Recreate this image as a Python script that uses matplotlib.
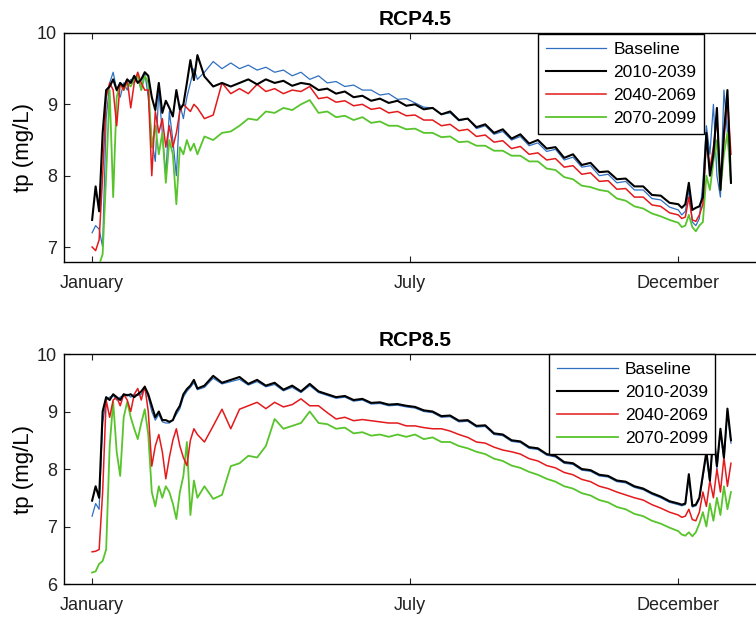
import matplotlib.pyplot as plt

plt.rcParams['font.family'] = ['Liberation Sans', 'DejaVu Sans']

# day of year; denser sampling in the noisy winter parts
days = list(range(1, 62, 2)) + list(range(65, 336, 5)) + list(range(337, 366, 2))

month_ticks = [1, 182, 335]
month_labels = ["January", "July", "December"]
labels = ["Baseline", "2010-2039", "2040-2069", "2070-2099"]

# ---- RCP4.5 ----
base_45 = [7.2, 7.3, 7.25, 7.0, 8.8, 9.3, 9.45, 9.2, 9.1, 9.3, 9.2, 9.35, 9.3, 9.4, 9.2, 9.45,
           9.1, 8.5, 8.2, 9.2, 8.6, 8.0, 8.9, 8.5, 8.0, 9.0, 8.8, 9.1, 9.3, 9.5, 9.35,
           9.45, 9.6, 9.5, 9.58, 9.5, 9.55, 9.48, 9.52, 9.45, 9.48,
           9.4, 9.45, 9.35, 9.4, 9.3, 9.32, 9.25, 9.27, 9.2, 9.2,
           9.13, 9.15, 9.07, 9.08, 9.02, 8.96, 8.95, 8.86, 8.88, 8.77,
           8.8, 8.66, 8.7, 8.58, 8.62, 8.5, 8.55, 8.42, 8.46, 8.34,
           8.37, 8.22, 8.26, 8.12, 8.14, 8.0, 8.02, 7.9, 7.92, 7.8,
           7.8, 7.68, 7.66, 7.56, 7.52,
           7.45, 7.5, 7.8, 7.35, 7.3, 7.4, 7.9, 8.7, 8.3, 9.0, 8.0, 7.7, 9.2, 8.6, 7.9]
p1_45 = [7.38, 7.85, 7.5, 8.6, 9.2, 9.25, 9.35, 9.2, 9.3, 9.25, 9.35, 9.3, 9.4, 9.3, 9.35, 9.45,
         9.4, 9.1, 8.92, 9.3, 8.88, 9.05, 8.95, 8.83, 9.2, 8.93, 9.0, 9.3, 9.62, 9.34, 9.69,
         9.39, 9.25, 9.3, 9.25, 9.3, 9.35, 9.28, 9.35, 9.3, 9.33,
         9.26, 9.3, 9.28, 9.2, 9.22, 9.15, 9.18, 9.1, 9.12, 9.05,
         9.08, 9.02, 9.05, 8.98, 9.0, 8.93, 8.95, 8.86, 8.9, 8.78,
         8.8, 8.68, 8.72, 8.6, 8.65, 8.52, 8.58, 8.45, 8.5, 8.38,
         8.4, 8.25, 8.3, 8.15, 8.18, 8.05, 8.06, 7.95, 7.96, 7.85,
         7.85, 7.73, 7.72, 7.62, 7.6,
         7.55, 7.6, 7.9, 7.52, 7.55, 7.57, 7.7, 8.6, 8.0, 8.3, 8.95, 7.8, 8.6, 9.2, 7.9]
p2_45 = [7.0, 6.95, 7.1, 8.0, 9.1, 9.3, 9.2, 8.7, 9.3, 9.2, 9.35, 8.95, 9.3, 9.45, 9.3, 9.2,
         9.2, 8.0, 8.9, 8.6, 8.8, 8.4, 8.7, 8.4, 8.6, 8.9, 9.0, 8.95, 8.9, 9.0, 8.95,
         8.8, 8.85, 9.3, 9.15, 9.22, 9.15, 9.28, 9.18, 9.22, 9.15,
         9.2, 9.18, 9.25, 9.08, 9.1, 9.03, 9.05, 8.98, 9.0, 8.93,
         8.95, 8.88, 8.9, 8.84, 8.85, 8.78, 8.78, 8.7, 8.72, 8.63,
         8.65, 8.55, 8.57, 8.47, 8.49, 8.38, 8.41, 8.3, 8.32, 8.22,
         8.24, 8.12, 8.14, 8.02, 8.04, 7.92, 7.93, 7.81, 7.82, 7.7,
         7.7, 7.59, 7.57, 7.48, 7.45,
         7.4, 7.42, 7.7, 7.38, 7.36, 7.45, 7.6, 8.5, 8.1, 8.4, 8.8, 7.9, 8.5, 9.1, 8.3]
p3_45 = [6.75, 6.72, 6.75, 6.9, 8.0, 9.2, 7.7, 9.1, 9.3, 9.2, 9.3, 9.25, 9.35, 9.4, 9.2, 9.4,
         9.3, 8.4, 8.7, 8.3, 8.6, 7.9, 8.5, 8.3, 7.6, 8.4, 8.3, 8.5, 8.35, 8.45, 8.3,
         8.55, 8.5, 8.6, 8.62, 8.7, 8.8, 8.78, 8.9, 8.88, 8.95,
         8.92, 9.0, 9.06, 8.88, 8.9, 8.82, 8.84, 8.78, 8.82, 8.74,
         8.76, 8.7, 8.7, 8.65, 8.66, 8.6, 8.6, 8.54, 8.55, 8.47,
         8.48, 8.42, 8.42, 8.35, 8.35, 8.28, 8.28, 8.2, 8.2, 8.1,
         8.08, 7.98, 7.95, 7.86, 7.84, 7.8, 7.78, 7.68, 7.65, 7.57,
         7.54, 7.47, 7.43, 7.38, 7.34,
         7.28, 7.3, 7.45, 7.28, 7.22, 7.3, 7.35, 8.0, 7.8, 8.2, 8.5, 7.8, 8.3, 8.6, 7.9]

# ---- RCP8.5 ----
base_85 = [7.18, 7.4, 7.3, 8.8, 9.2, 9.25, 9.28, 9.2, 9.25, 9.28, 9.3, 9.25, 9.3, 9.28, 9.3, 9.4,
           9.25, 9.0, 8.85, 8.95, 8.82, 8.8, 8.8, 8.85, 8.95, 9.05, 9.25, 9.35, 9.42, 9.5, 9.38,
           9.42, 9.58, 9.48, 9.52, 9.56, 9.46, 9.52, 9.43, 9.47, 9.36,
           9.42, 9.33, 9.45, 9.33, 9.28, 9.23, 9.25, 9.18, 9.2, 9.13,
           9.14, 9.1, 9.11, 9.08, 9.06, 9.0, 8.98, 8.9, 8.91, 8.82,
           8.83, 8.73, 8.74, 8.6, 8.58, 8.48, 8.46, 8.36, 8.34, 8.24,
           8.21, 8.1, 8.08, 7.98, 7.96, 7.88, 7.86, 7.78, 7.76, 7.68,
           7.64, 7.56, 7.5, 7.42, 7.38,
           7.36, 7.38, 7.85, 7.34, 7.36, 7.48, 7.85, 8.25, 7.75, 8.6, 8.0, 8.65, 8.15, 9.0, 8.45]
p1_85 = [7.45, 7.7, 7.5, 9.0, 9.25, 9.2, 9.3, 9.25, 9.2, 9.3, 9.28, 9.3, 9.25, 9.3, 9.35, 9.43,
         9.3, 9.1, 8.9, 9.0, 8.85, 8.85, 8.82, 8.85, 9.0, 9.1, 9.3, 9.39, 9.45, 9.55, 9.4,
         9.45, 9.62, 9.5, 9.55, 9.6, 9.48, 9.55, 9.45, 9.5, 9.38,
         9.45, 9.35, 9.48, 9.35, 9.3, 9.25, 9.27, 9.2, 9.22, 9.15,
         9.16, 9.12, 9.13, 9.1, 9.08, 9.02, 9.0, 8.92, 8.93, 8.84,
         8.85, 8.75, 8.76, 8.62, 8.6, 8.5, 8.48, 8.38, 8.36, 8.26,
         8.23, 8.12, 8.1, 8.0, 7.98, 7.9, 7.88, 7.8, 7.78, 7.7,
         7.66, 7.58, 7.52, 7.44, 7.4,
         7.38, 7.4, 7.91, 7.36, 7.38, 7.5, 7.9, 8.3, 7.8, 8.64, 8.05, 8.7, 8.2, 9.05, 8.5]
p2_85 = [6.56, 6.57, 6.6, 7.6, 9.2, 8.9, 9.2, 9.25, 9.1, 9.3, 9.2, 9.0, 9.3, 9.4, 9.2, 9.44,
         9.0, 8.05, 8.4, 8.6, 8.3, 7.83, 8.2, 8.5, 8.7, 8.4, 8.2, 8.06, 8.5, 8.7, 8.6,
         8.47, 8.75, 9.04, 8.7, 9.04, 9.1, 9.16, 9.05, 9.16, 9.08,
         9.12, 9.22, 9.1, 9.1, 8.98, 8.87, 8.9, 8.84, 8.86, 8.84,
         8.82, 8.8, 8.8, 8.75, 8.75, 8.72, 8.7, 8.7, 8.66, 8.6,
         8.55, 8.47, 8.45, 8.38, 8.33, 8.3, 8.26, 8.18, 8.14, 8.06,
         8.02, 7.94, 7.9, 7.82, 7.78, 7.7, 7.66, 7.6, 7.55, 7.5,
         7.46, 7.38, 7.32, 7.25, 7.2,
         7.16, 7.18, 7.3, 7.12, 7.1, 7.25, 7.6, 7.35, 7.8, 7.5, 8.0, 7.6, 8.2, 7.7, 8.1]
p3_85 = [6.2, 6.22, 6.35, 6.4, 6.6, 8.4, 9.17, 8.3, 7.88, 8.9, 9.17, 8.9, 8.7, 8.52, 8.8, 9.04,
         8.6, 7.6, 7.35, 7.7, 7.5, 7.7, 7.6, 7.4, 7.13, 7.6, 7.88, 8.47, 7.2, 7.8, 7.5,
         7.7, 7.48, 7.55, 8.05, 8.1, 8.23, 8.2, 8.4, 8.87, 8.7,
         8.75, 8.8, 9.0, 8.8, 8.78, 8.7, 8.72, 8.62, 8.64, 8.58,
         8.6, 8.56, 8.6, 8.56, 8.6, 8.52, 8.55, 8.47, 8.47, 8.4,
         8.36, 8.3, 8.26, 8.18, 8.14, 8.06, 8.02, 7.95, 7.9, 7.83,
         7.78, 7.7, 7.66, 7.58, 7.54, 7.46, 7.42, 7.34, 7.3, 7.22,
         7.18, 7.1, 7.05, 6.98, 6.92,
         6.86, 6.84, 6.9, 6.83, 6.9, 7.05, 7.25, 7.0, 7.4, 7.1, 7.5, 7.2, 7.7, 7.3, 7.6]

colors = ["#2f6fc0", "black", "#e3191c", "#58c42c"]
widths = [0.9, 1.5, 1.1, 1.3]
zorders = [2, 5, 4, 3]

fig = plt.figure(figsize=(7.56, 6.19), dpi=100)
ax1 = fig.add_axes([0.0847, 0.5767, 0.9286, 0.370])
ax2 = fig.add_axes([0.0847, 0.0565, 0.9286, 0.3716])

panels = [
    (ax1, [base_45, p1_45, p2_45, p3_45], "RCP4.5", (6.79, 10), [7, 8, 9, 10], (0.675, 0.996)),
    (ax2, [base_85, p1_85, p2_85, p3_85], "RCP8.5", (6, 10), [6, 7, 8, 9, 10], (0.691, 1.0)),
]

for ax, series, title, ylim, yticks, anchor in panels:
    for vals, lab, c, lw, z in zip(series, labels, colors, widths, zorders):
        ax.plot(days, vals, color=c, lw=lw, label=lab, zorder=z)
    ax.set_xlim(-15, 385)
    ax.set_ylim(*ylim)
    ax.set_yticks(yticks)
    ax.set_xticks(month_ticks)
    ax.set_xticklabels(month_labels)
    ax.tick_params(direction="in", top=True, right=True, length=4, width=0.8,
                   labelsize=13, colors="#222222")
    ax.tick_params(axis="x", pad=9)
    ax.tick_params(axis="y", pad=5)
    for s in ax.spines.values():
        s.set_linewidth(1.0)
    ax.set_title(title, fontsize=15, fontweight="bold", pad=6)
    ax.set_ylabel("tp (mg/L)", fontsize=16, labelpad=2)
    leg = ax.legend(loc="upper left", bbox_to_anchor=anchor, borderaxespad=0,
                    fontsize=12.5, handlelength=3.5, handletextpad=0.4,
                    labelspacing=0.45, borderpad=0.45, fancybox=False,
                    framealpha=1, edgecolor="black")
    leg.get_frame().set_linewidth(1.0)
    leg.set_zorder(10)

fig.savefig("out.png", dpi=100)
